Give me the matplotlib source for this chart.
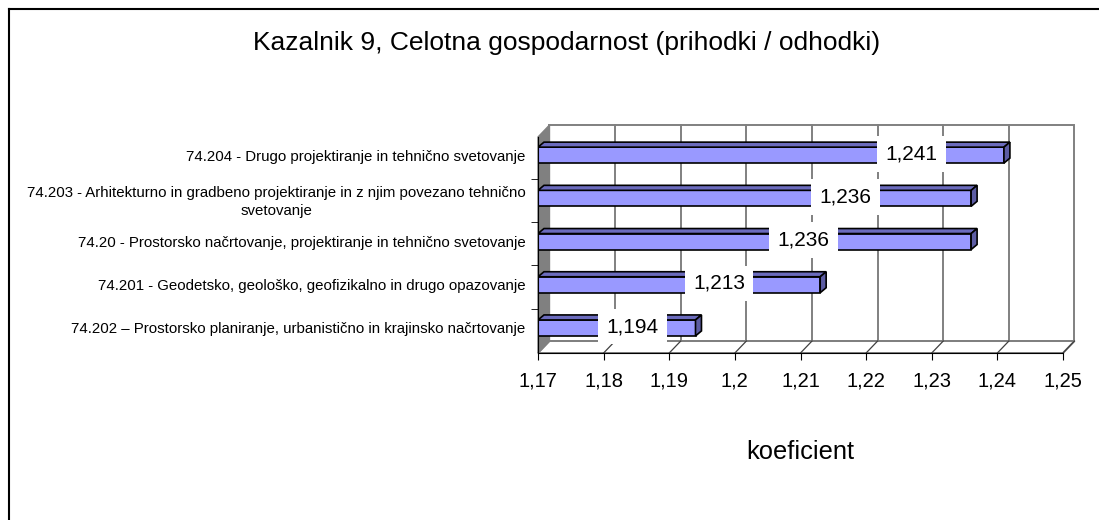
import matplotlib.pyplot as plt
from matplotlib.patches import Polygon, Rectangle
from matplotlib.lines import Line2D

plt.rcParams["font.family"] = ["Liberation Sans", "DejaVu Sans"]

# data (bottom bar first)
categories = [
    "74.202 \u2013 Prostorsko planiranje, urbanistično in krajinsko načrtovanje",
    "74.201 - Geodetsko, geološko, geofizikalno in drugo opazovanje",
    "74.20 - Prostorsko načrtovanje, projektiranje in tehnično svetovanje",
    "74.203 - Arhitekturno in gradbeno projektiranje in z njim povezano tehnično\nsvetovanje",
    "74.204 - Drugo projektiranje in tehnično svetovanje",
]
values = [1.194, 1.213, 1.236, 1.236, 1.241]
value_labels = ["1,194", "1,213", "1,236", "1,236", "1,241"]
xticks = [1.17, 1.18, 1.19, 1.20, 1.21, 1.22, 1.23, 1.24, 1.25]
xtick_labels = ["1,17", "1,18", "1,19", "1,2", "1,21", "1,22", "1,23", "1,24", "1,25"]

# where Excel put the data labels (shift from bar end, data units)
label_shift = [-0.0096, -0.0154, -0.0255, -0.0191, -0.0141]

X0, X1 = 1.17, 1.25
Y0, Y1 = -0.58, 4.42
DX, DY = 0.00175, 0.277      # wall depth
BDX, BDY = 0.00091, 0.116    # bar depth
BAR_H = 0.37
GREY = "#808080"

fig = plt.figure(figsize=(10.99, 5.2), dpi=100)
ax = fig.add_axes([538 / 1099, (520 - 353) / 520, (1063 - 538) / 1099, (353 - 137) / 520])
ax.set_xlim(X0, X1)
ax.set_ylim(Y0, Y1)
ax.patch.set_visible(False)

# back wall + gridlines
ax.add_patch(Rectangle((X0 + DX, Y0 + DY), X1 - X0, Y1 - Y0, facecolor="white",
                       edgecolor=GREY, lw=1.4, zorder=0, clip_on=False))
for t in xticks[1:-1]:
    ax.plot([t + DX, t + DX], [Y0 + DY, Y1 + DY], color=GREY, lw=1.4, zorder=0.5, clip_on=False)
# floor
ax.add_patch(Polygon([(X0, Y0), (X1, Y0), (X1 + DX, Y0 + DY), (X0 + DX, Y0 + DY)],
                     facecolor="white", edgecolor=GREY, lw=1.4, zorder=0.6, clip_on=False))
for t in xticks[1:]:
    ax.plot([t, t + DX], [Y0, Y0 + DY], color="#404040", lw=0.9, zorder=0.7, clip_on=False)
# left wall
ax.add_patch(Polygon([(X0, Y0), (X0 + DX, Y0 + DY), (X0 + DX, Y1 + DY), (X0, Y1)],
                     facecolor=GREY, edgecolor=GREY, lw=1, zorder=0.8, clip_on=False))

# bars
ypos = list(range(len(values)))
ax.barh(ypos, [v - X0 for v in values], left=X0, height=BAR_H, color="#9999ff",
        edgecolor="black", linewidth=1.2, zorder=3)
for y, v in zip(ypos, values):
    top = y + BAR_H / 2
    bot = y - BAR_H / 2
    ax.add_patch(Polygon([(X0, top), (v, top), (v + BDX, top + BDY), (X0 + BDX, top + BDY)],
                         facecolor="#6b6bbd", edgecolor="black", lw=1.2, zorder=3.1))
    ax.add_patch(Polygon([(v, bot), (v + BDX, bot + BDY), (v + BDX, top + BDY), (v, top)],
                         facecolor="#5c5ca3", edgecolor="black", lw=1.2, zorder=3.1, clip_on=False))

# data labels
for y, v, s, lab in zip(ypos, values, label_shift, value_labels):
    ax.text(v + s, y + 0.03, lab, ha="center", va="center", fontsize=15, zorder=5,
            bbox=dict(boxstyle="square,pad=0.4", facecolor="white", edgecolor="none"))

# axes
for side in ["top", "right"]:
    ax.spines[side].set_visible(False)
ax.spines["left"].set_zorder(4)
ax.spines["bottom"].set_zorder(4)
ax.set_xticks(xticks)
ax.set_xticklabels(xtick_labels, fontsize=14.5)
ax.tick_params(axis="x", direction="out", length=5, pad=8)
ax.set_yticks(ypos)
ax.set_yticklabels(categories, fontsize=10.8, multialignment="center", linespacing=1.4)
ax.set_yticks([y + 0.45 for y in ypos[:-1]], minor=True)
ax.tick_params(axis="y", which="major", length=0, pad=9)
ax.tick_params(axis="y", which="minor", length=5, direction="out")
ax.set_xlabel("koeficient", fontsize=18.4, labelpad=36)

fig.text(567 / 1099, 1 - 43 / 520, "Kazalnik 9, Celotna gospodarnost (prihodki / odhodki)",
         ha="center", va="center", fontsize=19)

# chart area border (runs off the right and bottom edges)
fig.add_artist(Line2D([9 / 1099, 9 / 1099], [0, 1 - 9 / 520], color="black", lw=1.5,
                      transform=fig.transFigure))
fig.add_artist(Line2D([9 / 1099, 1], [1 - 9 / 520, 1 - 9 / 520], color="black", lw=1.5,
                      transform=fig.transFigure))

fig.savefig("out.png", dpi=100)
